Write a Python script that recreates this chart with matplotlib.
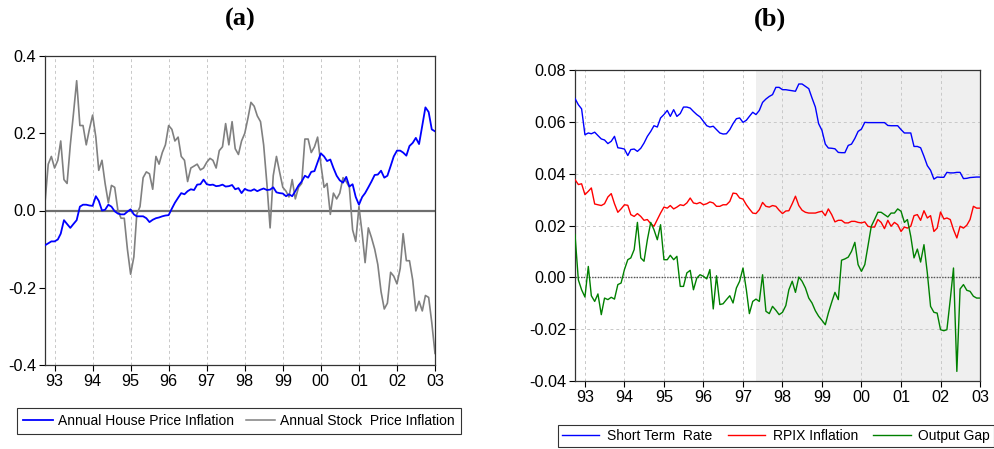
import matplotlib
matplotlib.use("Agg")
import matplotlib.pyplot as plt
import pandas as pd
from matplotlib.lines import Line2D

# ---- data (monthly, 1992M10 - 2003M01) ----
house_price_infl = [
    -0.09, -0.085, -0.08, -0.08, -0.075, -0.06, -0.025, -0.035, -0.045, -0.035,
    -0.025, 0.01, 0.015, 0.015, 0.013, 0.012, 0.037, 0.025, 0.0, 0.002,
    0.015, 0.01, -0.002, -0.008, -0.01, -0.01, -0.003, 0.003, -0.01, -0.015,
    -0.015, -0.015, -0.02, -0.03, -0.024, -0.02, -0.018, -0.015, -0.013, -0.012,
    0.005, 0.02, 0.033, 0.045, 0.042, 0.05, 0.055, 0.053, 0.067, 0.068,
    0.08, 0.068, 0.066, 0.067, 0.063, 0.064, 0.067, 0.062, 0.063, 0.066,
    0.055, 0.058, 0.045, 0.056, 0.052, 0.051, 0.055, 0.05, 0.054, 0.057,
    0.053, 0.054, 0.06, 0.047, 0.045, 0.044, 0.037, 0.042, 0.037, 0.05,
    0.065, 0.075, 0.09, 0.085, 0.1, 0.102, 0.125, 0.148, 0.14, 0.128,
    0.132, 0.11, 0.09, 0.078, 0.072, 0.087, 0.062, 0.068, 0.035, 0.015,
    0.035, 0.045, 0.06, 0.075, 0.092, 0.093, 0.103, 0.085, 0.09, 0.115,
    0.14, 0.155, 0.155, 0.15, 0.142, 0.167, 0.175, 0.188, 0.172, 0.22,
    0.267, 0.255, 0.21, 0.205,
]

stock_price_infl = [
    0.02, 0.12, 0.14, 0.11, 0.13, 0.18, 0.08, 0.07, 0.17, 0.25,
    0.336, 0.22, 0.22, 0.17, 0.21, 0.247, 0.19, 0.104, 0.13, 0.07,
    0.02, 0.065, 0.06, 0.0, -0.02, -0.02, -0.10, -0.165, -0.12, -0.01,
    0.01, 0.085, 0.10, 0.095, 0.055, 0.14, 0.12, 0.15, 0.17, 0.22,
    0.21, 0.18, 0.19, 0.14, 0.13, 0.075, 0.11, 0.115, 0.12, 0.105,
    0.11, 0.125, 0.135, 0.13, 0.11, 0.155, 0.165, 0.225, 0.17, 0.23,
    0.16, 0.145, 0.18, 0.20, 0.24, 0.28, 0.27, 0.245, 0.23, 0.17,
    0.07, -0.045, 0.09, 0.14, 0.10, 0.06, 0.05, 0.035, 0.08, 0.03,
    0.06, 0.07, 0.185, 0.185, 0.15, 0.165, 0.19, 0.12, 0.06, 0.07,
    -0.01, 0.045, 0.03, 0.045, 0.085, 0.075, 0.06, -0.05, -0.08, 0.01,
    -0.06, -0.135, -0.045, -0.07, -0.10, -0.14, -0.21, -0.255, -0.24, -0.16,
    -0.17, -0.19, -0.15, -0.06, -0.13, -0.13, -0.18, -0.26, -0.235, -0.26,
    -0.22, -0.225, -0.29, -0.37,
]

short_rate = [
    0.069, 0.0666, 0.065, 0.055, 0.0557, 0.0554, 0.056, 0.0547, 0.0534, 0.053,
    0.0516, 0.0525, 0.0544, 0.05, 0.0498, 0.0495, 0.047, 0.0493, 0.0495, 0.0486,
    0.0498, 0.0518, 0.0544, 0.0563, 0.0585, 0.058, 0.0615, 0.0628, 0.0644, 0.0621,
    0.0647, 0.0621, 0.0632, 0.0657, 0.0657, 0.0653, 0.064, 0.0628, 0.0619, 0.0602,
    0.0585, 0.058, 0.0583, 0.057, 0.0557, 0.0553, 0.0554, 0.057, 0.0593, 0.0612,
    0.0615, 0.0598, 0.0606, 0.0621, 0.0637, 0.0628, 0.0644, 0.0675, 0.0688, 0.0698,
    0.0705, 0.0733, 0.0733, 0.0724, 0.0724, 0.0722, 0.072, 0.0718, 0.0746, 0.0746,
    0.0737, 0.0728, 0.0692, 0.0657, 0.0593, 0.0567, 0.0514, 0.0499, 0.0498, 0.0496,
    0.0482, 0.0481, 0.0481, 0.0509, 0.0514, 0.0536, 0.0563, 0.0572, 0.0598, 0.0597,
    0.0597, 0.0597, 0.0597, 0.0597, 0.0597, 0.0586, 0.0585, 0.0585, 0.0585, 0.057,
    0.0557, 0.0557, 0.0557, 0.0505, 0.0505, 0.05, 0.0467, 0.0431, 0.0413, 0.0379,
    0.0387, 0.0386, 0.0386, 0.0405, 0.0403, 0.0403, 0.0405, 0.0405, 0.0381, 0.0382,
    0.0385, 0.0386, 0.0387, 0.0387,
]

rpix_infl = [
    0.0377, 0.0358, 0.0361, 0.0319, 0.0332, 0.0345, 0.0283, 0.028, 0.0277, 0.0284,
    0.031, 0.0323, 0.0284, 0.0251, 0.0264, 0.028, 0.0278, 0.0242, 0.0235, 0.0246,
    0.0235, 0.022, 0.0223, 0.0207, 0.0197, 0.0223, 0.0248, 0.0271, 0.0267, 0.0277,
    0.0264, 0.0271, 0.028, 0.0277, 0.0287, 0.0306, 0.0287, 0.0284, 0.0289, 0.028,
    0.0284, 0.0291, 0.0287, 0.0274, 0.0274, 0.028, 0.028, 0.0293, 0.0325, 0.0323,
    0.0306, 0.0302, 0.028, 0.0264, 0.0248, 0.0246, 0.0261, 0.0289, 0.0274, 0.0271,
    0.0277, 0.0274, 0.0259, 0.0246, 0.0256, 0.0257, 0.0284, 0.0313, 0.0277, 0.0259,
    0.0251, 0.0248, 0.0248, 0.0248, 0.0252, 0.0255, 0.0238, 0.0264, 0.0242, 0.0214,
    0.022, 0.022, 0.021, 0.021, 0.0216, 0.0216, 0.0212, 0.021, 0.0214, 0.0197,
    0.0194, 0.0194, 0.0223, 0.0212, 0.0188, 0.022, 0.0197, 0.0212, 0.0203, 0.0177,
    0.0194, 0.019, 0.0197, 0.0238, 0.0242, 0.022, 0.0257, 0.0229, 0.0238, 0.0177,
    0.019, 0.0252, 0.0225, 0.0229, 0.0223, 0.0184, 0.0152, 0.0197, 0.019, 0.0201,
    0.0223, 0.0274, 0.0267, 0.0267,
]

output_gap = [
    0.0165, -0.001, -0.0048, -0.0076, 0.0042, -0.0071, -0.0093, -0.0064, -0.0144, -0.008,
    -0.0086, -0.0077, -0.0084, -0.0028, -0.0022, 0.003, 0.0068, 0.0075, 0.0107, 0.0212,
    0.0075, 0.0062, 0.0145, 0.0212, 0.0184, 0.0145, 0.0203, 0.0068, 0.0068, 0.0085,
    0.0068, 0.0081, -0.0035, -0.0035, 0.0017, 0.0027, -0.0048, -0.0003, 0.001, 0.0004,
    -0.0006, 0.003, -0.0122, 0.0006, -0.0105, -0.0102, -0.0086, -0.0071, -0.0099, -0.0041,
    -0.0015, 0.0036, -0.0048, -0.014, -0.0093, -0.0084, -0.0093, 0.001, -0.0131, -0.014,
    -0.0112, -0.0127, -0.0144, -0.0135, -0.0109, -0.0048, -0.0015, -0.0058, 0.0001, -0.0015,
    -0.0041, -0.008, -0.0099, -0.0129, -0.015, -0.0166, -0.0183, -0.0138, -0.0096, -0.0058,
    -0.0086, 0.0066, 0.0071, 0.0078, 0.01, 0.0135, 0.0049, 0.0023, 0.0049, 0.012,
    0.0197, 0.0223, 0.0251, 0.0251, 0.0242, 0.0233, 0.0248, 0.0248, 0.0264, 0.0255,
    0.0212, 0.0223, 0.0158, 0.0075, 0.0109, 0.0059, 0.0126, 0.0017, -0.0112, -0.0135,
    -0.0138, -0.0202, -0.0206, -0.0202, -0.0086, 0.0036, -0.0363, -0.0045, -0.0028, -0.005,
    -0.0054, -0.0073, -0.008, -0.008,
]

start_month = "1992-10-01"
shade_start = "1997-05-01"
year_ticks = list(range(1993, 2004))

left_yticks = [-0.4, -0.2, 0.0, 0.2, 0.4]
right_yticks = [-0.04, -0.02, 0.00, 0.02, 0.04, 0.06, 0.08]

dates_a = pd.date_range(start_month, periods=len(house_price_infl), freq="MS")
dates_b = pd.date_range(start_month, periods=len(short_rate), freq="MS")

plt.rcParams["font.family"] = ["Liberation Sans", "DejaVu Sans"]

fig = plt.figure(figsize=(9.95, 4.49), dpi=100)

ax_a = fig.add_axes([45 / 995, 1 - 365 / 449, 390 / 995, 309 / 449])
ax_b = fig.add_axes([575 / 995, 1 - 381 / 449, 405 / 995, 311 / 449])

tick_dates = [pd.Timestamp(f"{y}-01-01") for y in year_ticks]
tick_labels = [f"{y % 100:02d}" for y in year_ticks]


def style_axes(ax):
    ax.set_xlim(dates_a[0], dates_a[-1])
    ax.set_xticks(tick_dates)
    ax.set_xticklabels(tick_labels)
    ax.tick_params(axis="both", labelsize=11.7, length=4, width=0.8,
                   direction="out", color="black", pad=2.5)
    ax.xaxis.grid(True, color="#c8c8c8", linestyle=(0, (3, 3)), linewidth=0.7)
    for sp in ax.spines.values():
        sp.set_color("#333333")
        sp.set_linewidth(0.9)
    ax.set_axisbelow(True)


# ---- panel (a) ----
style_axes(ax_a)
ax_a.set_ylim(-0.4, 0.4)
ax_a.set_yticks(left_yticks)
ax_a.set_yticklabels([f"{v:.1f}" for v in left_yticks])
ax_a.axhline(0.0, color="#6e6e6e", linewidth=1.6, zorder=1)
ax_a.plot(dates_a, house_price_infl, color="#0000ff", linewidth=1.3, zorder=3)
ax_a.plot(dates_a, stock_price_infl, color="#808080", linewidth=1.2, zorder=2)
fig.text(240 / 995, 1 - 19 / 449, "(a)", ha="center", va="center",
         fontsize=19, fontweight="bold", family="Liberation Serif")

# ---- panel (b) ----
style_axes(ax_b)
ax_b.set_ylim(-0.04, 0.08)
ax_b.set_yticks(right_yticks)
ax_b.set_yticklabels([f"{v:.2f}" for v in right_yticks])
ax_b.yaxis.grid(True, color="#c8c8c8", linestyle=(0, (3, 3)), linewidth=0.7)
ax_b.axvspan(pd.Timestamp(shade_start), dates_b[-1], color="#efefef", zorder=0, linewidth=0)
ax_b.axhline(0.0, color="#555555", linewidth=1.0, linestyle=(0, (1, 1)), zorder=1)
ax_b.plot(dates_b, short_rate, color="#0000ff", linewidth=1.0, zorder=3)
ax_b.plot(dates_b, rpix_infl, color="#ff0000", linewidth=1.0, zorder=3)
ax_b.plot(dates_b, output_gap, color="#008000", linewidth=1.0, zorder=3)
fig.text(770 / 995, 1 - 19 / 449, "(b)", ha="center", va="center",
         fontsize=19, fontweight="bold", family="Liberation Serif")

# ---- legends ----
handles_a = [Line2D([], [], color="#0000ff", linewidth=1.3),
             Line2D([], [], color="#808080", linewidth=1.1)]
leg_a = fig.legend(handles_a, ["Annual House Price Inflation", "Annual Stock  Price Inflation"],
                   loc="center", bbox_to_anchor=(239 / 995, 1 - 421 / 449), ncol=2,
                   fontsize=10, frameon=True, fancybox=False, handlelength=2.15,
                   handletextpad=0.35, columnspacing=0.85, borderpad=0.45,
                   borderaxespad=0)
leg_a.get_frame().set_edgecolor("black")
leg_a.get_frame().set_linewidth(0.8)

handles_b = [Line2D([], [], color="#0000ff", linewidth=1.0),
             Line2D([], [], color="#ff0000", linewidth=1.0),
             Line2D([], [], color="#008000", linewidth=1.0)]
leg_b = fig.legend(handles_b, ["Short Term  Rate", "RPIX Inflation", "Output Gap"],
                   loc="center", bbox_to_anchor=(776 / 995, 1 - 436 / 449), ncol=3,
                   fontsize=10, frameon=True, fancybox=False, handlelength=2.7,
                   handletextpad=0.55, columnspacing=1.1, borderpad=0.3,
                   borderaxespad=0)
leg_b.get_frame().set_edgecolor("black")
leg_b.get_frame().set_linewidth(0.8)

fig.savefig("out.png", dpi=100)
